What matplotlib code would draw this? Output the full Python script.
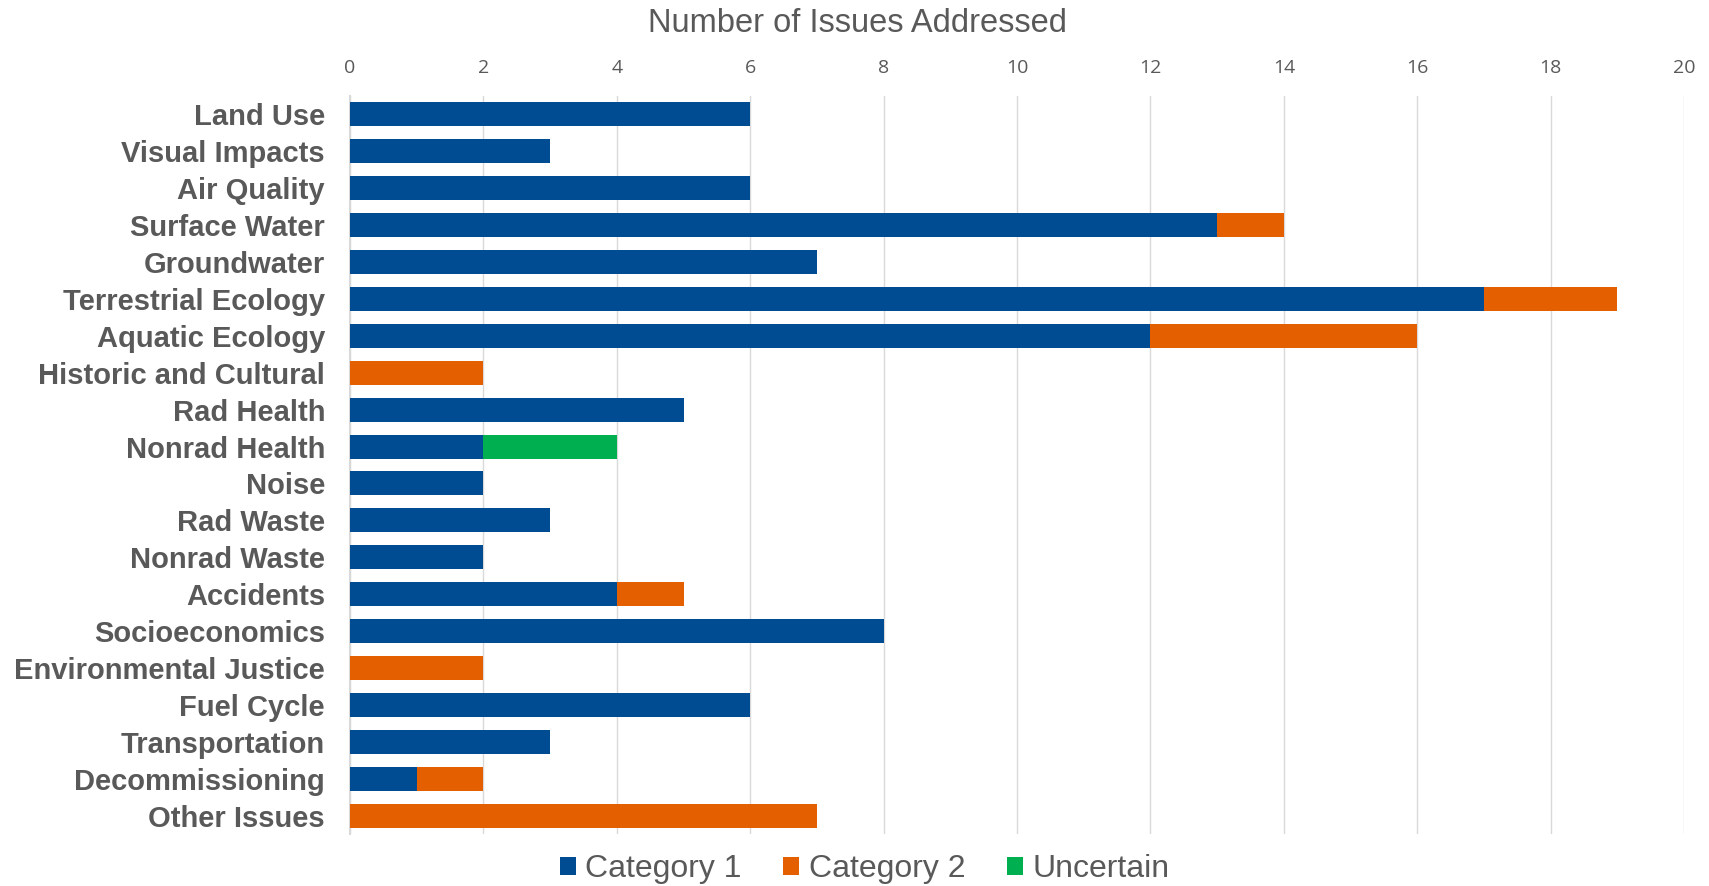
import numpy as np
import matplotlib.pyplot as plt

issues = ["Land Use", "Visual Impacts", "Air Quality", "Surface Water", "Groundwater",
          "Terrestrial Ecology", "Aquatic Ecology", "Historic and Cultural", "Rad Health",
          "Nonrad Health", "Noise", "Rad Waste", "Nonrad Waste", "Accidents",
          "Socioeconomics", "Environmental Justice", "Fuel Cycle", "Transportation",
          "Decommissioning", "Other Issues"]
cat1 = [6, 3, 6, 13, 7, 17, 12, 0, 5, 2, 2, 3, 2, 4, 8, 0, 6, 3, 1, 0]
cat2 = [0, 0, 0, 1, 0, 2, 4, 2, 0, 0, 0, 0, 0, 1, 0, 2, 0, 0, 1, 7]
uncertain = [0, 0, 0, 0, 0, 0, 0, 0, 0, 2, 0, 0, 0, 0, 0, 0, 0, 0, 0, 0]

blue = "#004C93"
orange = "#E35F00"
green = "#00B050"
gray = "#595959"

plt.rcParams['font.family'] = ['Liberation Sans', 'DejaVu Sans']

fig = plt.figure(figsize=(17.09, 8.86), dpi=100)
ax = fig.add_axes([0.2048, 0.0587, 0.7806, 0.8329])

y = np.arange(len(issues))
c1 = np.array(cat1)
c2 = np.array(cat2)
u = np.array(uncertain)
h = 0.65
ax.barh(y, c1, height=h, color=blue, label="Category 1", zorder=3)
ax.barh(y, c2, left=c1, height=h, color=orange, label="Category 2", zorder=3)
ax.barh(y, u, left=c1 + c2, height=h, color=green, label="Uncertain", zorder=3)

ax.set_xlim(0, 20)
ax.set_ylim(len(issues) - 0.5, -0.5)
ax.set_xticks(range(0, 21, 2))
ax.xaxis.tick_top()
ax.tick_params(axis='x', length=0, pad=14, labelsize=14, labelcolor=gray)
ax.tick_params(axis='y', length=0, pad=18, labelsize=21, labelcolor=gray)
ax.set_yticks(y)
ax.set_yticklabels(issues, fontweight='bold')
for lab in ax.get_xticklabels():
    lab.set_fontfamily(['Open Sans', 'DejaVu Sans'])

ax.grid(axis='x', color="#D9D9D9", linewidth=1, zorder=0)
for s in ['top', 'right', 'bottom']:
    ax.spines[s].set_visible(False)
ax.spines['left'].set_color("#D9D9D9")
ax.spines['left'].set_linewidth(1.5)

fig.text(0.502, 0.974, "Number of Issues Addressed", ha='center', va='center',
         fontsize=23.5, color=gray)

leg = fig.legend(loc='center', bbox_to_anchor=(0.506, 0.019), ncol=3, frameon=False,
                 fontsize=23, handlelength=0.5, handleheight=0.5, handletextpad=0.3,
                 columnspacing=1.3)
for t in leg.get_texts():
    t.set_color(gray)

fig.savefig("out.png", dpi=100)
